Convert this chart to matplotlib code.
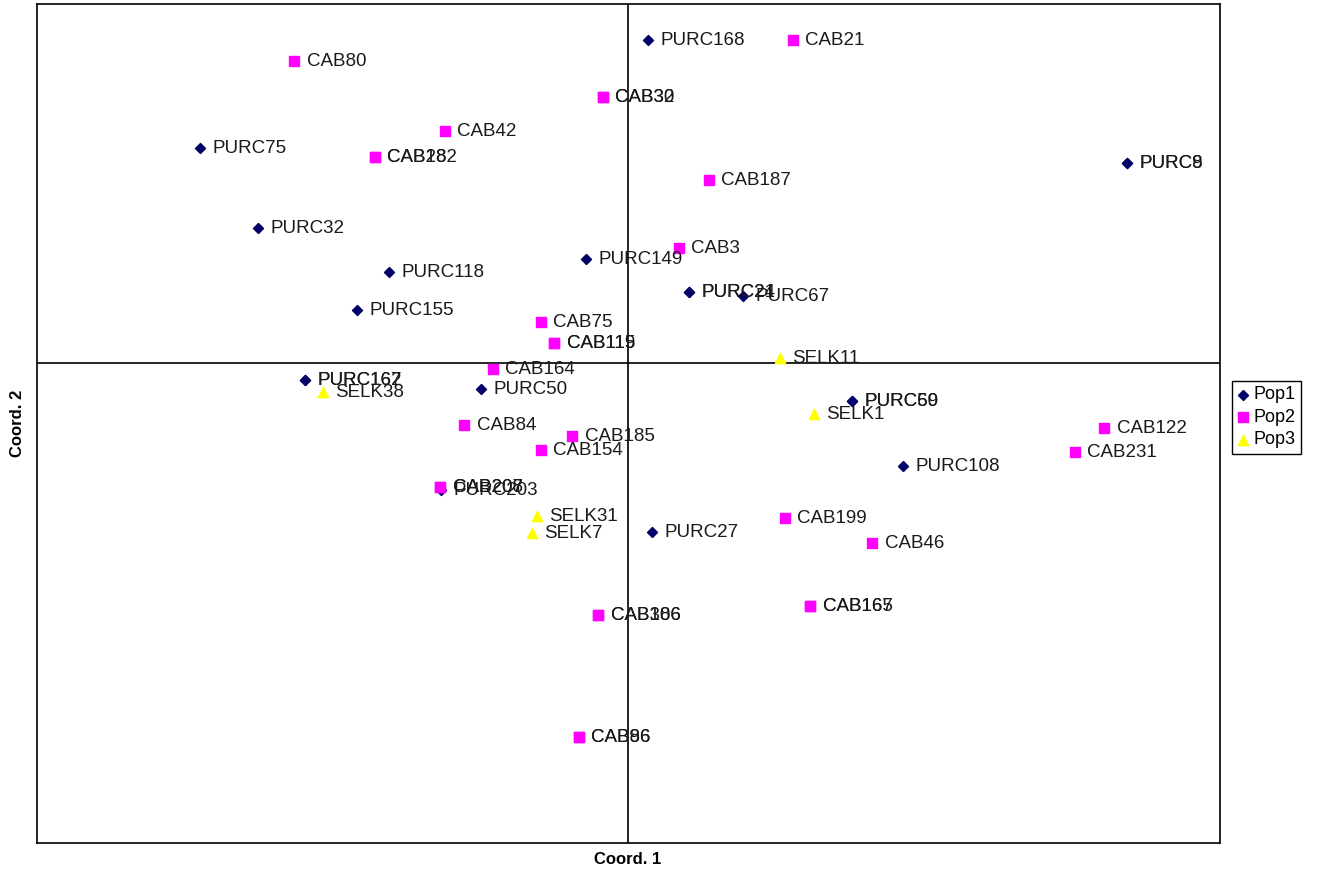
import matplotlib
matplotlib.use("Agg")
import matplotlib.pyplot as plt

plt.rcParams['font.family'] = ['Liberation Sans', 'DejaVu Sans']

# Pop1 (navy diamonds)
pop1_labels = ["PURC168", "PURC75", "PURC8", "PURC9", "PURC32", "PURC118", "PURC149",
               "PURC24", "PURC21", "PURC67", "PURC155", "PURC167", "PURC162", "PURC50",
               "PURC60", "PURC59", "PURC108", "PURC203", "PURC27"]
pop1_x = [0.20, -4.28, 4.99, 4.99, -3.70, -2.39, -0.42,
          0.61, 0.61, 1.15, -2.71, -3.23, -3.23, -1.47,
          2.24, 2.24, 2.75, -1.87, 0.24]
pop1_y = [3.23, 2.15, 2.00, 2.00, 1.35, 0.91, 1.04,
          0.71, 0.71, 0.67, 0.53, -0.17, -0.17, -0.26,
          -0.38, -0.38, -1.03, -1.27, -1.69]

# Pop2 (magenta squares)
pop2_labels = ["CAB80", "CAB21", "CAB30", "CAB32", "CAB42", "CAB28", "CAB182", "CAB187",
               "CAB3", "CAB75", "CAB119", "CAB115", "CAB164", "CAB84", "CAB185", "CAB154",
               "CAB122", "CAB231", "CAB207", "CAB208", "CAB199", "CAB46", "CAB165", "CAB167",
               "CAB306", "CAB186", "CAB96", "CAB86"]
pop2_x = [-3.34, 1.65, -0.25, -0.25, -1.83, -2.53, -2.53, 0.81,
          0.51, -0.87, -0.74, -0.74, -1.35, -1.64, -0.56, -0.87,
          4.76, 4.47, -1.88, -1.88, 1.57, 2.44, 1.82, 1.82,
          -0.30, -0.30, -0.49, -0.49]
pop2_y = [3.02, 3.23, 2.66, 2.66, 2.32, 2.06, 2.06, 1.83,
          1.15, 0.41, 0.20, 0.20, -0.06, -0.62, -0.73, -0.87,
          -0.65, -0.89, -1.24, -1.24, -1.55, -1.80, -2.43, -2.43,
          -2.52, -2.52, -3.74, -3.74]

# Pop3 (yellow triangles)
pop3_labels = ["SELK11", "SELK38", "SELK1", "SELK31", "SELK7"]
pop3_x = [1.52, -3.05, 1.86, -0.91, -0.96]
pop3_y = [0.05, -0.29, -0.51, -1.53, -1.70]

fig = plt.figure(figsize=(13.21, 8.75), dpi=100)
W, H = 1321, 875
ax = fig.add_axes([37 / W, 1 - 843 / H, (1220 - 37) / W, (843 - 4) / H])

ax.scatter(pop1_x, pop1_y, marker='D', s=26, color='#000066', zorder=3, label='Pop1')
ax.scatter(pop2_x, pop2_y, marker='s', s=50, color='#FF00FF', zorder=3, label='Pop2')
ax.scatter(pop3_x, pop3_y, marker='^', s=55, color='#FFFF00', zorder=3, label='Pop3')

for labels, xs, ys in [(pop1_labels, pop1_x, pop1_y),
                       (pop2_labels, pop2_x, pop2_y),
                       (pop3_labels, pop3_x, pop3_y)]:
    for t, x, y in zip(labels, xs, ys):
        ax.annotate(t, (x, y), xytext=(9, 0), textcoords='offset points',
                    va='center', ha='left', fontsize=13.5, color='#1a1a1a', zorder=4)

ax.axhline(0, color='black', lw=1.2, zorder=1)
ax.axvline(0, color='black', lw=1.2, zorder=1)

ax.set_xlim(-5.91, 5.92)
ax.set_ylim(-4.80, 3.59)
ax.set_xticks([])
ax.set_yticks([])
for s in ax.spines.values():
    s.set_linewidth(1.2)
    s.set_color('black')

fig.text(628 / W, 1 - 860 / H, "Coord. 1", ha='center', va='center',
         fontsize=12, fontweight='bold')
fig.text(18 / W, 1 - 423 / H, "Coord. 2", ha='center', va='center',
         fontsize=12, fontweight='bold', rotation=90)

leg = fig.legend(loc='upper left', bbox_to_anchor=(1232 / W, 1 - 381 / H),
                 borderaxespad=0, fancybox=False, edgecolor='black', framealpha=1,
                 fontsize=13, handlelength=0.6, handletextpad=0.3,
                 borderpad=0.3, labelspacing=0.3)
leg.get_frame().set_linewidth(1.0)

fig.savefig("out.png", dpi=100)
